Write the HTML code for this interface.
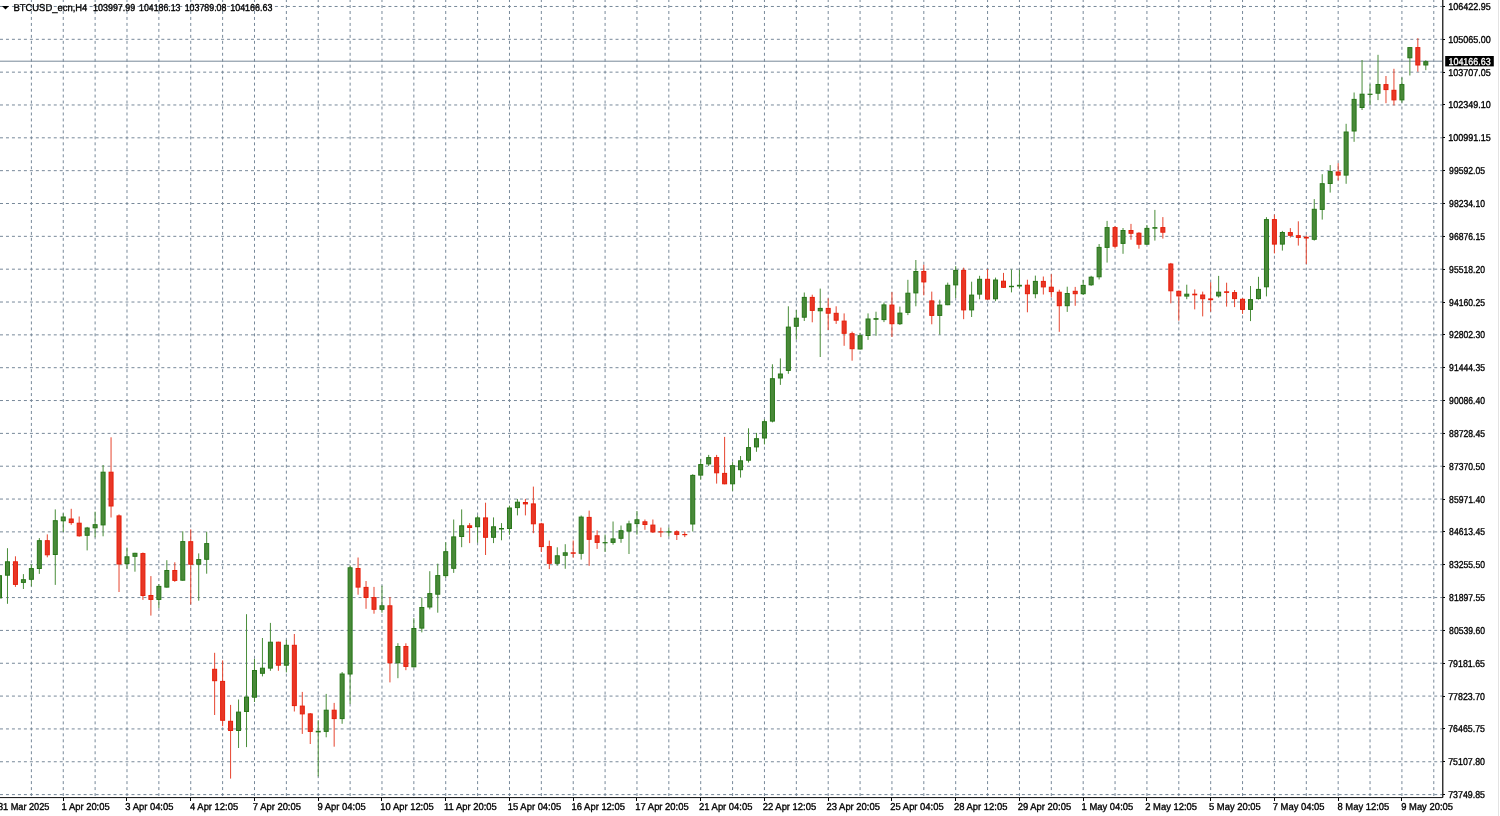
<!DOCTYPE html>
<html><head><meta charset="utf-8"><style>
html,body{margin:0;padding:0;background:#fff;overflow:hidden;}
svg{display:block;will-change:transform;}
.g{stroke:#778899;stroke-width:1;fill:none;}
.h{stroke-dasharray:2.988 2.988;}
.v{stroke-dasharray:2.985 2.985;stroke-dashoffset:0.95;}
text{font-family:"Liberation Sans",sans-serif;font-size:10.0px;text-rendering:geometricPrecision;}
.pl,.tl{fill:#000;stroke:#000;stroke-width:0.35px;}
.bl{fill:#fff;stroke:#fff;stroke-width:0.3px;}
</style></head><body>
<svg width="1500" height="816" viewBox="0 0 1500 816">
<path d="M0 6.47H1442.0M0 39.31H1442.0M0 72.15H1442.0M0 104.98H1442.0M0 137.82H1442.0M0 170.66H1442.0M0 203.50H1442.0M0 236.34H1442.0M0 269.18H1442.0M0 302.02H1442.0M0 334.86H1442.0M0 367.70H1442.0M0 400.54H1442.0M0 433.38H1442.0M0 466.21H1442.0M0 499.05H1442.0M0 531.89H1442.0M0 564.73H1442.0M0 597.57H1442.0M0 630.41H1442.0M0 663.25H1442.0M0 696.09H1442.0M0 728.93H1442.0M0 761.76H1442.0M0 794.60H1442.0" class="g h"/>
<path d="M31.38 0V797.0M63.25 0V797.0M95.12 0V797.0M126.99 0V797.0M158.87 0V797.0M190.74 0V797.0M222.61 0V797.0M254.49 0V797.0M286.36 0V797.0M318.23 0V797.0M350.11 0V797.0M381.98 0V797.0M413.85 0V797.0M445.72 0V797.0M477.60 0V797.0M509.47 0V797.0M541.34 0V797.0M573.22 0V797.0M605.09 0V797.0M636.96 0V797.0M668.84 0V797.0M700.71 0V797.0M732.58 0V797.0M764.45 0V797.0M796.33 0V797.0M828.20 0V797.0M860.07 0V797.0M891.95 0V797.0M923.82 0V797.0M955.69 0V797.0M987.57 0V797.0M1019.44 0V797.0M1051.31 0V797.0M1083.18 0V797.0M1115.06 0V797.0M1146.93 0V797.0M1178.80 0V797.0M1210.68 0V797.0M1242.55 0V797.0M1274.42 0V797.0M1306.30 0V797.0M1338.17 0V797.0M1370.04 0V797.0M1401.91 0V797.0M1433.79 0V797.0" class="g v"/>
<line x1="0" y1="61.2" x2="1442.5" y2="61.2" stroke="#778899" stroke-width="1"/>
<line x1="-0.5" y1="575.2" x2="-0.5" y2="600" stroke="#4a8d3a" stroke-width="1"/>
<rect x="-2.50" y="575.70" width="4" height="22.20" fill="#498939" stroke="#267617" stroke-width="1"/>
<line x1="7.47" y1="548.2" x2="7.47" y2="603.8" stroke="#4a8d3a" stroke-width="1"/>
<rect x="5.47" y="561.80" width="4" height="13.40" fill="#498939" stroke="#267617" stroke-width="1"/>
<line x1="15.44" y1="556.3" x2="15.44" y2="586.9" stroke="#e6452f" stroke-width="1"/>
<rect x="13.44" y="561.80" width="4" height="22.60" fill="#e83726" stroke="#e61e0a" stroke-width="1"/>
<line x1="23.41" y1="574.1" x2="23.41" y2="589.0" stroke="#4a8d3a" stroke-width="1"/>
<rect x="21.41" y="579.70" width="4" height="2.70" fill="#498939" stroke="#267617" stroke-width="1"/>
<line x1="31.38" y1="564.4" x2="31.38" y2="586.3" stroke="#4a8d3a" stroke-width="1"/>
<rect x="29.38" y="568.60" width="4" height="10.70" fill="#498939" stroke="#267617" stroke-width="1"/>
<line x1="39.34" y1="538.1" x2="39.34" y2="573.9" stroke="#4a8d3a" stroke-width="1"/>
<rect x="37.34" y="540.70" width="4" height="27.80" fill="#498939" stroke="#267617" stroke-width="1"/>
<line x1="47.31" y1="534.4" x2="47.31" y2="557.3" stroke="#e6452f" stroke-width="1"/>
<rect x="45.31" y="540.70" width="4" height="14.10" fill="#e83726" stroke="#e61e0a" stroke-width="1"/>
<line x1="55.28" y1="509.4" x2="55.28" y2="584.9" stroke="#4a8d3a" stroke-width="1"/>
<rect x="53.28" y="520.70" width="4" height="33.80" fill="#498939" stroke="#267617" stroke-width="1"/>
<line x1="63.25" y1="513.3" x2="63.25" y2="532.0" stroke="#4a8d3a" stroke-width="1"/>
<rect x="61.25" y="517.00" width="4" height="3.80" fill="#498939" stroke="#267617" stroke-width="1"/>
<line x1="71.22" y1="508.8" x2="71.22" y2="524.8" stroke="#e6452f" stroke-width="1"/>
<rect x="69.22" y="519.00" width="4" height="3.60" fill="#e83726" stroke="#e61e0a" stroke-width="1"/>
<line x1="79.18" y1="516.5" x2="79.18" y2="536.7" stroke="#e6452f" stroke-width="1"/>
<rect x="77.18" y="523.20" width="4" height="12.60" fill="#e83726" stroke="#e61e0a" stroke-width="1"/>
<line x1="87.15" y1="526.9" x2="87.15" y2="550.4" stroke="#4a8d3a" stroke-width="1"/>
<rect x="85.15" y="528.00" width="4" height="7.30" fill="#498939" stroke="#267617" stroke-width="1"/>
<line x1="95.12" y1="511.7" x2="95.12" y2="537.3" stroke="#4a8d3a" stroke-width="1"/>
<rect x="93.12" y="524.70" width="4" height="3.10" fill="#498939" stroke="#267617" stroke-width="1"/>
<line x1="103.09" y1="465.0" x2="103.09" y2="536.3" stroke="#4a8d3a" stroke-width="1"/>
<rect x="101.09" y="472.20" width="4" height="52.70" fill="#498939" stroke="#267617" stroke-width="1"/>
<line x1="111.06" y1="437.3" x2="111.06" y2="517.5" stroke="#e6452f" stroke-width="1"/>
<rect x="109.06" y="472.20" width="4" height="33.80" fill="#e83726" stroke="#e61e0a" stroke-width="1"/>
<line x1="119.03" y1="514.4" x2="119.03" y2="592.0" stroke="#e6452f" stroke-width="1"/>
<rect x="117.03" y="515.90" width="4" height="48.10" fill="#e83726" stroke="#e61e0a" stroke-width="1"/>
<line x1="126.99" y1="547.6" x2="126.99" y2="568.8" stroke="#4a8d3a" stroke-width="1"/>
<rect x="124.99" y="556.80" width="4" height="6.80" fill="#498939" stroke="#267617" stroke-width="1"/>
<line x1="134.96" y1="552.8" x2="134.96" y2="571.7" stroke="#4a8d3a" stroke-width="1"/>
<rect x="132.96" y="553.30" width="4" height="3.00" fill="#498939" stroke="#267617" stroke-width="1"/>
<line x1="142.93" y1="552.5" x2="142.93" y2="599.9" stroke="#e6452f" stroke-width="1"/>
<rect x="140.93" y="553.60" width="4" height="41.90" fill="#e83726" stroke="#e61e0a" stroke-width="1"/>
<line x1="150.9" y1="576.1" x2="150.9" y2="615.6" stroke="#e6452f" stroke-width="1"/>
<rect x="148.90" y="595.50" width="4" height="3.90" fill="#e83726" stroke="#e61e0a" stroke-width="1"/>
<line x1="158.87" y1="584.0" x2="158.87" y2="608.0" stroke="#4a8d3a" stroke-width="1"/>
<rect x="156.87" y="586.40" width="4" height="13.00" fill="#498939" stroke="#267617" stroke-width="1"/>
<line x1="166.83" y1="560.2" x2="166.83" y2="587.6" stroke="#4a8d3a" stroke-width="1"/>
<rect x="164.83" y="570.50" width="4" height="16.60" fill="#498939" stroke="#267617" stroke-width="1"/>
<line x1="174.8" y1="562.3" x2="174.8" y2="581.9" stroke="#e6452f" stroke-width="1"/>
<rect x="172.80" y="570.50" width="4" height="9.90" fill="#e83726" stroke="#e61e0a" stroke-width="1"/>
<line x1="182.77" y1="531.3" x2="182.77" y2="580.7" stroke="#4a8d3a" stroke-width="1"/>
<rect x="180.77" y="541.60" width="4" height="38.60" fill="#498939" stroke="#267617" stroke-width="1"/>
<line x1="190.74" y1="529.4" x2="190.74" y2="604.4" stroke="#e6452f" stroke-width="1"/>
<rect x="188.74" y="541.70" width="4" height="22.50" fill="#e83726" stroke="#e61e0a" stroke-width="1"/>
<line x1="198.71" y1="553.4" x2="198.71" y2="600.7" stroke="#4a8d3a" stroke-width="1"/>
<rect x="196.71" y="559.60" width="4" height="4.60" fill="#498939" stroke="#267617" stroke-width="1"/>
<line x1="206.68" y1="531.7" x2="206.68" y2="573.7" stroke="#4a8d3a" stroke-width="1"/>
<rect x="204.68" y="543.60" width="4" height="15.70" fill="#498939" stroke="#267617" stroke-width="1"/>
<line x1="214.64" y1="652.8" x2="214.64" y2="715.0" stroke="#e6452f" stroke-width="1"/>
<rect x="212.64" y="669.30" width="4" height="11.40" fill="#e83726" stroke="#e61e0a" stroke-width="1"/>
<line x1="222.61" y1="660.4" x2="222.61" y2="726.2" stroke="#e6452f" stroke-width="1"/>
<rect x="220.61" y="681.40" width="4" height="38.90" fill="#e83726" stroke="#e61e0a" stroke-width="1"/>
<line x1="230.58" y1="704.9" x2="230.58" y2="778.6" stroke="#e6452f" stroke-width="1"/>
<rect x="228.58" y="721.30" width="4" height="9.20" fill="#e83726" stroke="#e61e0a" stroke-width="1"/>
<line x1="238.55" y1="699.5" x2="238.55" y2="748.0" stroke="#4a8d3a" stroke-width="1"/>
<rect x="236.55" y="712.10" width="4" height="18.40" fill="#498939" stroke="#267617" stroke-width="1"/>
<line x1="246.52" y1="614.2" x2="246.52" y2="747.1" stroke="#4a8d3a" stroke-width="1"/>
<rect x="244.52" y="697.10" width="4" height="14.40" fill="#498939" stroke="#267617" stroke-width="1"/>
<line x1="254.48" y1="658.9" x2="254.48" y2="702.0" stroke="#4a8d3a" stroke-width="1"/>
<rect x="252.48" y="670.50" width="4" height="26.70" fill="#498939" stroke="#267617" stroke-width="1"/>
<line x1="262.45" y1="638.0" x2="262.45" y2="676.4" stroke="#4a8d3a" stroke-width="1"/>
<rect x="260.45" y="668.20" width="4" height="5.10" fill="#498939" stroke="#267617" stroke-width="1"/>
<line x1="270.42" y1="622.9" x2="270.42" y2="670.8" stroke="#4a8d3a" stroke-width="1"/>
<rect x="268.42" y="642.20" width="4" height="25.90" fill="#498939" stroke="#267617" stroke-width="1"/>
<line x1="278.39" y1="641.7" x2="278.39" y2="670.8" stroke="#e6452f" stroke-width="1"/>
<rect x="276.39" y="642.20" width="4" height="23.00" fill="#e83726" stroke="#e61e0a" stroke-width="1"/>
<line x1="286.36" y1="639.8" x2="286.36" y2="672.4" stroke="#4a8d3a" stroke-width="1"/>
<rect x="284.36" y="645.30" width="4" height="19.90" fill="#498939" stroke="#267617" stroke-width="1"/>
<line x1="294.33" y1="634.0" x2="294.33" y2="711.5" stroke="#e6452f" stroke-width="1"/>
<rect x="292.33" y="645.30" width="4" height="60.30" fill="#e83726" stroke="#e61e0a" stroke-width="1"/>
<line x1="302.29" y1="691.9" x2="302.29" y2="733.9" stroke="#e6452f" stroke-width="1"/>
<rect x="300.29" y="706.10" width="4" height="7.80" fill="#e83726" stroke="#e61e0a" stroke-width="1"/>
<line x1="310.26" y1="713.0" x2="310.26" y2="744.0" stroke="#e6452f" stroke-width="1"/>
<rect x="308.26" y="713.90" width="4" height="17.50" fill="#e83726" stroke="#e61e0a" stroke-width="1"/>
<line x1="318.23" y1="720.2" x2="318.23" y2="776.4" stroke="#4a8d3a" stroke-width="1"/>
<rect x="315.73" y="730.80" width="5" height="1.60" fill="#267617"/>
<line x1="326.2" y1="693.9" x2="326.2" y2="737.3" stroke="#4a8d3a" stroke-width="1"/>
<rect x="324.20" y="710.20" width="4" height="21.20" fill="#498939" stroke="#267617" stroke-width="1"/>
<line x1="334.17" y1="702.9" x2="334.17" y2="746.7" stroke="#e6452f" stroke-width="1"/>
<rect x="332.17" y="710.20" width="4" height="8.40" fill="#e83726" stroke="#e61e0a" stroke-width="1"/>
<line x1="342.13" y1="672.0" x2="342.13" y2="723.8" stroke="#4a8d3a" stroke-width="1"/>
<rect x="340.13" y="674.00" width="4" height="44.60" fill="#498939" stroke="#267617" stroke-width="1"/>
<line x1="350.1" y1="565.3" x2="350.1" y2="703.9" stroke="#4a8d3a" stroke-width="1"/>
<rect x="348.10" y="567.80" width="4" height="106.20" fill="#498939" stroke="#267617" stroke-width="1"/>
<line x1="358.07" y1="557.5" x2="358.07" y2="594.7" stroke="#e6452f" stroke-width="1"/>
<rect x="356.07" y="568.50" width="4" height="18.60" fill="#e83726" stroke="#e61e0a" stroke-width="1"/>
<line x1="366.04" y1="581.0" x2="366.04" y2="608.8" stroke="#e6452f" stroke-width="1"/>
<rect x="364.04" y="587.40" width="4" height="10.10" fill="#e83726" stroke="#e61e0a" stroke-width="1"/>
<line x1="374.01" y1="586.9" x2="374.01" y2="613.7" stroke="#e6452f" stroke-width="1"/>
<rect x="372.01" y="597.60" width="4" height="11.70" fill="#e83726" stroke="#e61e0a" stroke-width="1"/>
<line x1="381.98" y1="585.7" x2="381.98" y2="612.7" stroke="#4a8d3a" stroke-width="1"/>
<rect x="379.98" y="605.80" width="4" height="3.50" fill="#498939" stroke="#267617" stroke-width="1"/>
<line x1="389.94" y1="597.0" x2="389.94" y2="682.4" stroke="#e6452f" stroke-width="1"/>
<rect x="387.94" y="605.80" width="4" height="57.00" fill="#e83726" stroke="#e61e0a" stroke-width="1"/>
<line x1="397.91" y1="643.2" x2="397.91" y2="678.2" stroke="#4a8d3a" stroke-width="1"/>
<rect x="395.91" y="646.50" width="4" height="16.30" fill="#498939" stroke="#267617" stroke-width="1"/>
<line x1="405.88" y1="643.3" x2="405.88" y2="670.2" stroke="#e6452f" stroke-width="1"/>
<rect x="403.88" y="646.50" width="4" height="19.90" fill="#e83726" stroke="#e61e0a" stroke-width="1"/>
<line x1="413.85" y1="618.2" x2="413.85" y2="667.3" stroke="#4a8d3a" stroke-width="1"/>
<rect x="411.85" y="628.50" width="4" height="38.30" fill="#498939" stroke="#267617" stroke-width="1"/>
<line x1="421.82" y1="597.6" x2="421.82" y2="632.4" stroke="#4a8d3a" stroke-width="1"/>
<rect x="419.82" y="607.50" width="4" height="20.60" fill="#498939" stroke="#267617" stroke-width="1"/>
<line x1="429.79" y1="571.2" x2="429.79" y2="609.4" stroke="#4a8d3a" stroke-width="1"/>
<rect x="427.79" y="593.60" width="4" height="13.40" fill="#498939" stroke="#267617" stroke-width="1"/>
<line x1="437.75" y1="563.7" x2="437.75" y2="612.7" stroke="#4a8d3a" stroke-width="1"/>
<rect x="435.75" y="575.60" width="4" height="18.60" fill="#498939" stroke="#267617" stroke-width="1"/>
<line x1="445.72" y1="542.2" x2="445.72" y2="578.0" stroke="#4a8d3a" stroke-width="1"/>
<rect x="443.72" y="551.70" width="4" height="23.90" fill="#498939" stroke="#267617" stroke-width="1"/>
<line x1="453.69" y1="519.5" x2="453.69" y2="572.9" stroke="#4a8d3a" stroke-width="1"/>
<rect x="451.69" y="536.90" width="4" height="31.40" fill="#498939" stroke="#267617" stroke-width="1"/>
<line x1="461.66" y1="509.4" x2="461.66" y2="547.2" stroke="#4a8d3a" stroke-width="1"/>
<rect x="459.66" y="525.80" width="4" height="10.70" fill="#498939" stroke="#267617" stroke-width="1"/>
<line x1="469.63" y1="523.1" x2="469.63" y2="543.1" stroke="#e6452f" stroke-width="1"/>
<rect x="467.63" y="525.80" width="4" height="1.70" fill="#e83726" stroke="#e61e0a" stroke-width="1"/>
<line x1="477.59" y1="515.5" x2="477.59" y2="542.7" stroke="#4a8d3a" stroke-width="1"/>
<rect x="475.59" y="517.90" width="4" height="8.80" fill="#498939" stroke="#267617" stroke-width="1"/>
<line x1="485.56" y1="502.7" x2="485.56" y2="555.0" stroke="#e6452f" stroke-width="1"/>
<rect x="483.56" y="517.90" width="4" height="19.40" fill="#e83726" stroke="#e61e0a" stroke-width="1"/>
<line x1="493.53" y1="517.4" x2="493.53" y2="543.1" stroke="#4a8d3a" stroke-width="1"/>
<rect x="491.53" y="526.80" width="4" height="10.50" fill="#498939" stroke="#267617" stroke-width="1"/>
<line x1="501.5" y1="523.1" x2="501.5" y2="540.3" stroke="#4a8d3a" stroke-width="1"/>
<rect x="499.00" y="528.00" width="5" height="1.50" fill="#267617"/>
<line x1="509.47" y1="505.6" x2="509.47" y2="534.8" stroke="#4a8d3a" stroke-width="1"/>
<rect x="507.47" y="508.00" width="4" height="20.50" fill="#498939" stroke="#267617" stroke-width="1"/>
<line x1="517.44" y1="498.9" x2="517.44" y2="515.4" stroke="#4a8d3a" stroke-width="1"/>
<rect x="515.44" y="502.20" width="4" height="5.40" fill="#498939" stroke="#267617" stroke-width="1"/>
<line x1="525.4" y1="498.9" x2="525.4" y2="515.4" stroke="#e6452f" stroke-width="1"/>
<rect x="523.40" y="502.50" width="4" height="1.40" fill="#e83726" stroke="#e61e0a" stroke-width="1"/>
<line x1="533.37" y1="486.6" x2="533.37" y2="533.2" stroke="#e6452f" stroke-width="1"/>
<rect x="531.37" y="503.90" width="4" height="19.90" fill="#e83726" stroke="#e61e0a" stroke-width="1"/>
<line x1="541.34" y1="522.8" x2="541.34" y2="552.0" stroke="#e6452f" stroke-width="1"/>
<rect x="539.34" y="523.90" width="4" height="22.70" fill="#e83726" stroke="#e61e0a" stroke-width="1"/>
<line x1="549.31" y1="540.6" x2="549.31" y2="569.1" stroke="#e6452f" stroke-width="1"/>
<rect x="547.31" y="546.60" width="4" height="16.70" fill="#e83726" stroke="#e61e0a" stroke-width="1"/>
<line x1="557.28" y1="547.3" x2="557.28" y2="565.7" stroke="#4a8d3a" stroke-width="1"/>
<rect x="555.28" y="555.80" width="4" height="7.50" fill="#498939" stroke="#267617" stroke-width="1"/>
<line x1="565.24" y1="544.2" x2="565.24" y2="568.8" stroke="#4a8d3a" stroke-width="1"/>
<rect x="563.24" y="552.80" width="4" height="2.50" fill="#498939" stroke="#267617" stroke-width="1"/>
<line x1="573.21" y1="540.5" x2="573.21" y2="557.7" stroke="#e6452f" stroke-width="1"/>
<rect x="570.71" y="552.30" width="5" height="1.50" fill="#e61e0a"/>
<line x1="581.18" y1="515.5" x2="581.18" y2="559.6" stroke="#4a8d3a" stroke-width="1"/>
<rect x="579.18" y="517.10" width="4" height="36.20" fill="#498939" stroke="#267617" stroke-width="1"/>
<line x1="589.15" y1="510.6" x2="589.15" y2="565.8" stroke="#e6452f" stroke-width="1"/>
<rect x="587.15" y="517.40" width="4" height="21.90" fill="#e83726" stroke="#e61e0a" stroke-width="1"/>
<line x1="597.12" y1="530.4" x2="597.12" y2="548.9" stroke="#e6452f" stroke-width="1"/>
<rect x="595.12" y="535.80" width="4" height="6.60" fill="#e83726" stroke="#e61e0a" stroke-width="1"/>
<line x1="605.09" y1="534.6" x2="605.09" y2="552.0" stroke="#4a8d3a" stroke-width="1"/>
<rect x="602.59" y="542.10" width="5" height="1.20" fill="#267617"/>
<line x1="613.05" y1="521.5" x2="613.05" y2="544.7" stroke="#4a8d3a" stroke-width="1"/>
<rect x="611.05" y="538.90" width="4" height="3.50" fill="#498939" stroke="#267617" stroke-width="1"/>
<line x1="621.02" y1="525.5" x2="621.02" y2="542.8" stroke="#4a8d3a" stroke-width="1"/>
<rect x="619.02" y="530.70" width="4" height="7.60" fill="#498939" stroke="#267617" stroke-width="1"/>
<line x1="628.99" y1="520.7" x2="628.99" y2="554.0" stroke="#4a8d3a" stroke-width="1"/>
<rect x="626.99" y="523.90" width="4" height="7.20" fill="#498939" stroke="#267617" stroke-width="1"/>
<line x1="636.96" y1="511.0" x2="636.96" y2="534.6" stroke="#4a8d3a" stroke-width="1"/>
<rect x="634.96" y="519.80" width="4" height="3.80" fill="#498939" stroke="#267617" stroke-width="1"/>
<line x1="644.93" y1="519.5" x2="644.93" y2="529.8" stroke="#e6452f" stroke-width="1"/>
<rect x="642.93" y="521.80" width="4" height="2.70" fill="#e83726" stroke="#e61e0a" stroke-width="1"/>
<line x1="652.89" y1="519.5" x2="652.89" y2="532.9" stroke="#e6452f" stroke-width="1"/>
<rect x="650.89" y="525.10" width="4" height="6.80" fill="#e83726" stroke="#e61e0a" stroke-width="1"/>
<line x1="660.86" y1="527.6" x2="660.86" y2="537.1" stroke="#e6452f" stroke-width="1"/>
<rect x="658.36" y="531.30" width="5" height="1.20" fill="#e61e0a"/>
<line x1="668.83" y1="527.4" x2="668.83" y2="536.4" stroke="#4a8d3a" stroke-width="1"/>
<rect x="666.33" y="531.30" width="5" height="1.20" fill="#267617"/>
<line x1="676.8" y1="530.3" x2="676.8" y2="540.0" stroke="#e6452f" stroke-width="1"/>
<rect x="674.80" y="531.80" width="4" height="2.60" fill="#e83726" stroke="#e61e0a" stroke-width="1"/>
<line x1="684.77" y1="531.5" x2="684.77" y2="537.1" stroke="#e6452f" stroke-width="1"/>
<rect x="682.27" y="534.00" width="5" height="1.20" fill="#e61e0a"/>
<line x1="692.74" y1="474.2" x2="692.74" y2="531.5" stroke="#4a8d3a" stroke-width="1"/>
<rect x="690.74" y="475.40" width="4" height="48.60" fill="#498939" stroke="#267617" stroke-width="1"/>
<line x1="700.7" y1="459.0" x2="700.7" y2="479.6" stroke="#4a8d3a" stroke-width="1"/>
<rect x="698.70" y="464.60" width="4" height="10.50" fill="#498939" stroke="#267617" stroke-width="1"/>
<line x1="708.67" y1="454.9" x2="708.67" y2="466.1" stroke="#4a8d3a" stroke-width="1"/>
<rect x="706.67" y="457.60" width="4" height="6.30" fill="#498939" stroke="#267617" stroke-width="1"/>
<line x1="716.64" y1="454.9" x2="716.64" y2="483.6" stroke="#e6452f" stroke-width="1"/>
<rect x="714.64" y="457.60" width="4" height="15.20" fill="#e83726" stroke="#e61e0a" stroke-width="1"/>
<line x1="724.61" y1="436.9" x2="724.61" y2="484.3" stroke="#e6452f" stroke-width="1"/>
<rect x="722.61" y="473.40" width="4" height="10.40" fill="#e83726" stroke="#e61e0a" stroke-width="1"/>
<line x1="732.58" y1="462.1" x2="732.58" y2="490.8" stroke="#4a8d3a" stroke-width="1"/>
<rect x="730.58" y="465.70" width="4" height="18.10" fill="#498939" stroke="#267617" stroke-width="1"/>
<line x1="740.54" y1="456.0" x2="740.54" y2="477.6" stroke="#4a8d3a" stroke-width="1"/>
<rect x="738.54" y="460.80" width="4" height="8.90" fill="#498939" stroke="#267617" stroke-width="1"/>
<line x1="748.51" y1="428.3" x2="748.51" y2="462.5" stroke="#4a8d3a" stroke-width="1"/>
<rect x="746.51" y="447.60" width="4" height="12.60" fill="#498939" stroke="#267617" stroke-width="1"/>
<line x1="756.48" y1="432.9" x2="756.48" y2="451.8" stroke="#4a8d3a" stroke-width="1"/>
<rect x="754.48" y="438.70" width="4" height="8.20" fill="#498939" stroke="#267617" stroke-width="1"/>
<line x1="764.45" y1="419.4" x2="764.45" y2="444.4" stroke="#4a8d3a" stroke-width="1"/>
<rect x="762.45" y="421.70" width="4" height="16.30" fill="#498939" stroke="#267617" stroke-width="1"/>
<line x1="772.42" y1="364.3" x2="772.42" y2="422.4" stroke="#4a8d3a" stroke-width="1"/>
<rect x="770.42" y="378.70" width="4" height="42.40" fill="#498939" stroke="#267617" stroke-width="1"/>
<line x1="780.39" y1="358.4" x2="780.39" y2="384.9" stroke="#4a8d3a" stroke-width="1"/>
<rect x="778.39" y="374.00" width="4" height="4.00" fill="#498939" stroke="#267617" stroke-width="1"/>
<line x1="788.35" y1="306.3" x2="788.35" y2="373.8" stroke="#4a8d3a" stroke-width="1"/>
<rect x="786.35" y="327.10" width="4" height="43.30" fill="#498939" stroke="#267617" stroke-width="1"/>
<line x1="796.32" y1="310.0" x2="796.32" y2="339.4" stroke="#4a8d3a" stroke-width="1"/>
<rect x="794.32" y="318.20" width="4" height="8.10" fill="#498939" stroke="#267617" stroke-width="1"/>
<line x1="804.29" y1="292.5" x2="804.29" y2="321.0" stroke="#4a8d3a" stroke-width="1"/>
<rect x="802.29" y="297.40" width="4" height="19.80" fill="#498939" stroke="#267617" stroke-width="1"/>
<line x1="812.26" y1="294.7" x2="812.26" y2="322.3" stroke="#e6452f" stroke-width="1"/>
<rect x="810.26" y="297.40" width="4" height="13.00" fill="#e83726" stroke="#e61e0a" stroke-width="1"/>
<line x1="820.23" y1="288.6" x2="820.23" y2="357.0" stroke="#4a8d3a" stroke-width="1"/>
<rect x="818.23" y="308.40" width="4" height="2.40" fill="#498939" stroke="#267617" stroke-width="1"/>
<line x1="828.2" y1="298.4" x2="828.2" y2="330.0" stroke="#e6452f" stroke-width="1"/>
<rect x="826.20" y="308.40" width="4" height="4.80" fill="#e83726" stroke="#e61e0a" stroke-width="1"/>
<line x1="836.16" y1="306.3" x2="836.16" y2="323.9" stroke="#e6452f" stroke-width="1"/>
<rect x="834.16" y="313.30" width="4" height="6.90" fill="#e83726" stroke="#e61e0a" stroke-width="1"/>
<line x1="844.13" y1="313.4" x2="844.13" y2="345.8" stroke="#e6452f" stroke-width="1"/>
<rect x="842.13" y="321.10" width="4" height="12.20" fill="#e83726" stroke="#e61e0a" stroke-width="1"/>
<line x1="852.1" y1="331.6" x2="852.1" y2="360.7" stroke="#e6452f" stroke-width="1"/>
<rect x="850.10" y="333.70" width="4" height="15.00" fill="#e83726" stroke="#e61e0a" stroke-width="1"/>
<line x1="860.07" y1="332.8" x2="860.07" y2="349.5" stroke="#4a8d3a" stroke-width="1"/>
<rect x="858.07" y="335.70" width="4" height="13.30" fill="#498939" stroke="#267617" stroke-width="1"/>
<line x1="868.04" y1="313.4" x2="868.04" y2="339.9" stroke="#4a8d3a" stroke-width="1"/>
<rect x="866.04" y="319.00" width="4" height="16.50" fill="#498939" stroke="#267617" stroke-width="1"/>
<line x1="876.0" y1="311.7" x2="876.0" y2="335.8" stroke="#4a8d3a" stroke-width="1"/>
<rect x="873.50" y="318.10" width="5" height="1.70" fill="#267617"/>
<line x1="883.97" y1="302.5" x2="883.97" y2="322.1" stroke="#4a8d3a" stroke-width="1"/>
<rect x="881.97" y="304.90" width="4" height="14.70" fill="#498939" stroke="#267617" stroke-width="1"/>
<line x1="891.94" y1="292.1" x2="891.94" y2="337.0" stroke="#e6452f" stroke-width="1"/>
<rect x="889.94" y="305.10" width="4" height="18.60" fill="#e83726" stroke="#e61e0a" stroke-width="1"/>
<line x1="899.91" y1="306.6" x2="899.91" y2="325.0" stroke="#4a8d3a" stroke-width="1"/>
<rect x="897.91" y="313.10" width="4" height="10.60" fill="#498939" stroke="#267617" stroke-width="1"/>
<line x1="907.88" y1="279.8" x2="907.88" y2="315.1" stroke="#4a8d3a" stroke-width="1"/>
<rect x="905.88" y="293.20" width="4" height="19.20" fill="#498939" stroke="#267617" stroke-width="1"/>
<line x1="915.85" y1="260.0" x2="915.85" y2="306.3" stroke="#4a8d3a" stroke-width="1"/>
<rect x="913.85" y="271.50" width="4" height="21.40" fill="#498939" stroke="#267617" stroke-width="1"/>
<line x1="923.81" y1="264.7" x2="923.81" y2="295.3" stroke="#e6452f" stroke-width="1"/>
<rect x="921.81" y="271.50" width="4" height="10.40" fill="#e83726" stroke="#e61e0a" stroke-width="1"/>
<line x1="931.78" y1="291.6" x2="931.78" y2="324.3" stroke="#e6452f" stroke-width="1"/>
<rect x="929.78" y="300.90" width="4" height="14.50" fill="#e83726" stroke="#e61e0a" stroke-width="1"/>
<line x1="939.75" y1="299.7" x2="939.75" y2="334.6" stroke="#4a8d3a" stroke-width="1"/>
<rect x="937.75" y="305.10" width="4" height="10.30" fill="#498939" stroke="#267617" stroke-width="1"/>
<line x1="947.72" y1="282.6" x2="947.72" y2="305.2" stroke="#4a8d3a" stroke-width="1"/>
<rect x="945.72" y="285.30" width="4" height="19.40" fill="#498939" stroke="#267617" stroke-width="1"/>
<line x1="955.69" y1="266.2" x2="955.69" y2="298.0" stroke="#4a8d3a" stroke-width="1"/>
<rect x="953.69" y="270.40" width="4" height="14.50" fill="#498939" stroke="#267617" stroke-width="1"/>
<line x1="963.65" y1="267.7" x2="963.65" y2="319.2" stroke="#e6452f" stroke-width="1"/>
<rect x="961.65" y="270.40" width="4" height="39.50" fill="#e83726" stroke="#e61e0a" stroke-width="1"/>
<line x1="971.62" y1="281.7" x2="971.62" y2="317.0" stroke="#4a8d3a" stroke-width="1"/>
<rect x="969.62" y="295.10" width="4" height="14.80" fill="#498939" stroke="#267617" stroke-width="1"/>
<line x1="979.59" y1="275.8" x2="979.59" y2="299.3" stroke="#4a8d3a" stroke-width="1"/>
<rect x="977.59" y="279.30" width="4" height="14.80" fill="#498939" stroke="#267617" stroke-width="1"/>
<line x1="987.56" y1="269.2" x2="987.56" y2="299.7" stroke="#e6452f" stroke-width="1"/>
<rect x="985.56" y="279.30" width="4" height="19.80" fill="#e83726" stroke="#e61e0a" stroke-width="1"/>
<line x1="995.53" y1="277.6" x2="995.53" y2="301.2" stroke="#4a8d3a" stroke-width="1"/>
<rect x="993.53" y="280.00" width="4" height="18.80" fill="#498939" stroke="#267617" stroke-width="1"/>
<line x1="1003.5" y1="272.9" x2="1003.5" y2="287.8" stroke="#e6452f" stroke-width="1"/>
<rect x="1001.50" y="281.20" width="4" height="6.10" fill="#e83726" stroke="#e61e0a" stroke-width="1"/>
<line x1="1011.46" y1="269.5" x2="1011.46" y2="292.4" stroke="#4a8d3a" stroke-width="1"/>
<rect x="1008.96" y="285.80" width="5" height="1.40" fill="#267617"/>
<line x1="1019.43" y1="269.7" x2="1019.43" y2="288.3" stroke="#4a8d3a" stroke-width="1"/>
<rect x="1016.93" y="284.80" width="5" height="1.70" fill="#267617"/>
<line x1="1027.4" y1="279.7" x2="1027.4" y2="312.3" stroke="#e6452f" stroke-width="1"/>
<rect x="1025.40" y="285.20" width="4" height="8.50" fill="#e83726" stroke="#e61e0a" stroke-width="1"/>
<line x1="1035.37" y1="275.6" x2="1035.37" y2="298.3" stroke="#4a8d3a" stroke-width="1"/>
<rect x="1033.37" y="281.40" width="4" height="12.30" fill="#498939" stroke="#267617" stroke-width="1"/>
<line x1="1043.34" y1="276.5" x2="1043.34" y2="294.5" stroke="#e6452f" stroke-width="1"/>
<rect x="1041.34" y="281.40" width="4" height="5.50" fill="#e83726" stroke="#e61e0a" stroke-width="1"/>
<line x1="1051.3" y1="274.2" x2="1051.3" y2="297.4" stroke="#e6452f" stroke-width="1"/>
<rect x="1049.30" y="287.20" width="4" height="4.40" fill="#e83726" stroke="#e61e0a" stroke-width="1"/>
<line x1="1059.27" y1="289.7" x2="1059.27" y2="331.8" stroke="#e6452f" stroke-width="1"/>
<rect x="1057.27" y="292.20" width="4" height="13.50" fill="#e83726" stroke="#e61e0a" stroke-width="1"/>
<line x1="1067.24" y1="286.7" x2="1067.24" y2="311.9" stroke="#4a8d3a" stroke-width="1"/>
<rect x="1065.24" y="293.50" width="4" height="12.20" fill="#498939" stroke="#267617" stroke-width="1"/>
<line x1="1075.21" y1="286.9" x2="1075.21" y2="305.8" stroke="#e6452f" stroke-width="1"/>
<rect x="1073.21" y="291.30" width="4" height="2.40" fill="#e83726" stroke="#e61e0a" stroke-width="1"/>
<line x1="1083.18" y1="280.0" x2="1083.18" y2="295.0" stroke="#4a8d3a" stroke-width="1"/>
<rect x="1081.18" y="285.40" width="4" height="8.30" fill="#498939" stroke="#267617" stroke-width="1"/>
<line x1="1091.15" y1="275.8" x2="1091.15" y2="285.9" stroke="#4a8d3a" stroke-width="1"/>
<rect x="1089.15" y="277.20" width="4" height="7.60" fill="#498939" stroke="#267617" stroke-width="1"/>
<line x1="1099.11" y1="244.0" x2="1099.11" y2="279.5" stroke="#4a8d3a" stroke-width="1"/>
<rect x="1097.11" y="247.40" width="4" height="29.40" fill="#498939" stroke="#267617" stroke-width="1"/>
<line x1="1107.08" y1="220.9" x2="1107.08" y2="262.6" stroke="#4a8d3a" stroke-width="1"/>
<rect x="1105.08" y="227.60" width="4" height="19.80" fill="#498939" stroke="#267617" stroke-width="1"/>
<line x1="1115.05" y1="226.1" x2="1115.05" y2="248.5" stroke="#e6452f" stroke-width="1"/>
<rect x="1113.05" y="227.60" width="4" height="18.60" fill="#e83726" stroke="#e61e0a" stroke-width="1"/>
<line x1="1123.02" y1="228.0" x2="1123.02" y2="253.8" stroke="#4a8d3a" stroke-width="1"/>
<rect x="1121.02" y="230.50" width="4" height="12.90" fill="#498939" stroke="#267617" stroke-width="1"/>
<line x1="1130.99" y1="223.9" x2="1130.99" y2="239.7" stroke="#e6452f" stroke-width="1"/>
<rect x="1128.99" y="230.50" width="4" height="2.80" fill="#e83726" stroke="#e61e0a" stroke-width="1"/>
<line x1="1138.95" y1="232.2" x2="1138.95" y2="248.7" stroke="#e6452f" stroke-width="1"/>
<rect x="1136.95" y="233.20" width="4" height="11.00" fill="#e83726" stroke="#e61e0a" stroke-width="1"/>
<line x1="1146.92" y1="225.0" x2="1146.92" y2="244.7" stroke="#4a8d3a" stroke-width="1"/>
<rect x="1144.92" y="228.40" width="4" height="15.80" fill="#498939" stroke="#267617" stroke-width="1"/>
<line x1="1154.89" y1="209.9" x2="1154.89" y2="240.6" stroke="#4a8d3a" stroke-width="1"/>
<rect x="1152.39" y="227.10" width="5" height="1.60" fill="#267617"/>
<line x1="1162.86" y1="217.1" x2="1162.86" y2="238.6" stroke="#e6452f" stroke-width="1"/>
<rect x="1160.86" y="227.60" width="4" height="4.60" fill="#e83726" stroke="#e61e0a" stroke-width="1"/>
<line x1="1170.83" y1="262.9" x2="1170.83" y2="303.3" stroke="#e6452f" stroke-width="1"/>
<rect x="1168.83" y="264.00" width="4" height="26.80" fill="#e83726" stroke="#e61e0a" stroke-width="1"/>
<line x1="1178.8" y1="290.5" x2="1178.8" y2="320.7" stroke="#e6452f" stroke-width="1"/>
<rect x="1176.80" y="291.30" width="4" height="4.60" fill="#e83726" stroke="#e61e0a" stroke-width="1"/>
<line x1="1186.76" y1="284.7" x2="1186.76" y2="299.2" stroke="#4a8d3a" stroke-width="1"/>
<rect x="1184.76" y="294.20" width="4" height="1.90" fill="#498939" stroke="#267617" stroke-width="1"/>
<line x1="1194.73" y1="289.4" x2="1194.73" y2="309.4" stroke="#e6452f" stroke-width="1"/>
<rect x="1192.23" y="293.70" width="5" height="1.60" fill="#e61e0a"/>
<line x1="1202.7" y1="291.6" x2="1202.7" y2="316.4" stroke="#e6452f" stroke-width="1"/>
<rect x="1200.70" y="295.00" width="4" height="3.70" fill="#e83726" stroke="#e61e0a" stroke-width="1"/>
<line x1="1210.67" y1="282.3" x2="1210.67" y2="311.7" stroke="#e6452f" stroke-width="1"/>
<rect x="1208.17" y="298.40" width="5" height="1.80" fill="#e61e0a"/>
<line x1="1218.64" y1="275.9" x2="1218.64" y2="297.6" stroke="#4a8d3a" stroke-width="1"/>
<rect x="1216.64" y="292.20" width="4" height="3.70" fill="#498939" stroke="#267617" stroke-width="1"/>
<line x1="1226.61" y1="282.7" x2="1226.61" y2="306.6" stroke="#e6452f" stroke-width="1"/>
<rect x="1224.11" y="291.30" width="5" height="1.60" fill="#e61e0a"/>
<line x1="1234.57" y1="290.0" x2="1234.57" y2="307.1" stroke="#e6452f" stroke-width="1"/>
<rect x="1232.57" y="292.60" width="4" height="6.00" fill="#e83726" stroke="#e61e0a" stroke-width="1"/>
<line x1="1242.54" y1="298.0" x2="1242.54" y2="313.9" stroke="#e6452f" stroke-width="1"/>
<rect x="1240.54" y="299.30" width="4" height="10.10" fill="#e83726" stroke="#e61e0a" stroke-width="1"/>
<line x1="1250.51" y1="286.0" x2="1250.51" y2="321.1" stroke="#4a8d3a" stroke-width="1"/>
<rect x="1248.51" y="299.60" width="4" height="9.80" fill="#498939" stroke="#267617" stroke-width="1"/>
<line x1="1258.48" y1="276.8" x2="1258.48" y2="299.6" stroke="#4a8d3a" stroke-width="1"/>
<rect x="1256.48" y="289.40" width="4" height="9.20" fill="#498939" stroke="#267617" stroke-width="1"/>
<line x1="1266.45" y1="217.2" x2="1266.45" y2="296.4" stroke="#4a8d3a" stroke-width="1"/>
<rect x="1264.45" y="219.60" width="4" height="67.20" fill="#498939" stroke="#267617" stroke-width="1"/>
<line x1="1274.41" y1="214.7" x2="1274.41" y2="253.4" stroke="#e6452f" stroke-width="1"/>
<rect x="1272.41" y="219.60" width="4" height="24.50" fill="#e83726" stroke="#e61e0a" stroke-width="1"/>
<line x1="1282.38" y1="230.9" x2="1282.38" y2="250.6" stroke="#4a8d3a" stroke-width="1"/>
<rect x="1280.38" y="232.50" width="4" height="11.60" fill="#498939" stroke="#267617" stroke-width="1"/>
<line x1="1290.35" y1="228.1" x2="1290.35" y2="237.5" stroke="#e6452f" stroke-width="1"/>
<rect x="1288.35" y="232.60" width="4" height="2.70" fill="#e83726" stroke="#e61e0a" stroke-width="1"/>
<line x1="1298.32" y1="221.3" x2="1298.32" y2="245.6" stroke="#e6452f" stroke-width="1"/>
<rect x="1296.32" y="235.70" width="4" height="1.70" fill="#e83726" stroke="#e61e0a" stroke-width="1"/>
<line x1="1306.29" y1="235.5" x2="1306.29" y2="264.1" stroke="#e6452f" stroke-width="1"/>
<rect x="1303.79" y="236.80" width="5" height="1.70" fill="#e61e0a"/>
<line x1="1314.26" y1="199.1" x2="1314.26" y2="240.6" stroke="#4a8d3a" stroke-width="1"/>
<rect x="1312.26" y="209.30" width="4" height="30.00" fill="#498939" stroke="#267617" stroke-width="1"/>
<line x1="1322.22" y1="174.2" x2="1322.22" y2="219.6" stroke="#4a8d3a" stroke-width="1"/>
<rect x="1320.22" y="183.70" width="4" height="25.70" fill="#498939" stroke="#267617" stroke-width="1"/>
<line x1="1330.19" y1="165.1" x2="1330.19" y2="192.6" stroke="#4a8d3a" stroke-width="1"/>
<rect x="1328.19" y="171.60" width="4" height="11.90" fill="#498939" stroke="#267617" stroke-width="1"/>
<line x1="1338.16" y1="163.2" x2="1338.16" y2="180.4" stroke="#e6452f" stroke-width="1"/>
<rect x="1336.16" y="172.00" width="4" height="3.10" fill="#e83726" stroke="#e61e0a" stroke-width="1"/>
<line x1="1346.13" y1="123.8" x2="1346.13" y2="183.8" stroke="#4a8d3a" stroke-width="1"/>
<rect x="1344.13" y="132.00" width="4" height="43.10" fill="#498939" stroke="#267617" stroke-width="1"/>
<line x1="1354.1" y1="92.5" x2="1354.1" y2="141.8" stroke="#4a8d3a" stroke-width="1"/>
<rect x="1352.10" y="99.40" width="4" height="31.60" fill="#498939" stroke="#267617" stroke-width="1"/>
<line x1="1362.06" y1="60.0" x2="1362.06" y2="110.0" stroke="#4a8d3a" stroke-width="1"/>
<rect x="1360.06" y="94.20" width="4" height="13.30" fill="#498939" stroke="#267617" stroke-width="1"/>
<line x1="1370.03" y1="84.3" x2="1370.03" y2="104.9" stroke="#4a8d3a" stroke-width="1"/>
<rect x="1367.53" y="93.70" width="5" height="1.20" fill="#267617"/>
<line x1="1378.0" y1="54.8" x2="1378.0" y2="100.1" stroke="#4a8d3a" stroke-width="1"/>
<rect x="1376.00" y="84.50" width="4" height="8.70" fill="#498939" stroke="#267617" stroke-width="1"/>
<line x1="1385.97" y1="76.0" x2="1385.97" y2="103.2" stroke="#e6452f" stroke-width="1"/>
<rect x="1383.97" y="84.60" width="4" height="5.00" fill="#e83726" stroke="#e61e0a" stroke-width="1"/>
<line x1="1393.94" y1="68.8" x2="1393.94" y2="105.4" stroke="#e6452f" stroke-width="1"/>
<rect x="1391.94" y="90.30" width="4" height="9.60" fill="#e83726" stroke="#e61e0a" stroke-width="1"/>
<line x1="1401.91" y1="77.4" x2="1401.91" y2="102.7" stroke="#4a8d3a" stroke-width="1"/>
<rect x="1399.91" y="84.60" width="4" height="15.30" fill="#498939" stroke="#267617" stroke-width="1"/>
<line x1="1409.87" y1="47.1" x2="1409.87" y2="75.5" stroke="#4a8d3a" stroke-width="1"/>
<rect x="1407.87" y="47.60" width="4" height="10.20" fill="#498939" stroke="#267617" stroke-width="1"/>
<line x1="1417.84" y1="38.2" x2="1417.84" y2="71.7" stroke="#e6452f" stroke-width="1"/>
<rect x="1415.84" y="47.60" width="4" height="17.40" fill="#e83726" stroke="#e61e0a" stroke-width="1"/>
<line x1="1425.81" y1="60.2" x2="1425.81" y2="70.2" stroke="#4a8d3a" stroke-width="1"/>
<rect x="1423.81" y="61.70" width="4" height="3.30" fill="#498939" stroke="#267617" stroke-width="1"/>
<line x1="1442.5" y1="0" x2="1442.5" y2="798.0" stroke="#333" stroke-width="1"/>
<line x1="1443.5" y1="0" x2="1443.5" y2="797.5" stroke="#a0a0a0" stroke-width="1"/>
<line x1="0" y1="797.5" x2="1443.0" y2="797.5" stroke="#222" stroke-width="1"/>
<line x1="0" y1="798.5" x2="1442.0" y2="798.5" stroke="#ececec" stroke-width="1"/>
<line x1="1443.0" y1="6.5" x2="1445.0" y2="6.5" stroke="#000" stroke-width="1"/>
<text x="1448.19" y="10" textLength="42.46" lengthAdjust="spacingAndGlyphs" class="pl">106422.95</text>
<line x1="1443.0" y1="39.5" x2="1445.0" y2="39.5" stroke="#000" stroke-width="1"/>
<text x="1448.19" y="43" textLength="42.46" lengthAdjust="spacingAndGlyphs" class="pl">105065.00</text>
<line x1="1443.0" y1="72.5" x2="1445.0" y2="72.5" stroke="#000" stroke-width="1"/>
<text x="1448.19" y="76" textLength="42.46" lengthAdjust="spacingAndGlyphs" class="pl">103707.05</text>
<line x1="1443.0" y1="104.5" x2="1445.0" y2="104.5" stroke="#000" stroke-width="1"/>
<text x="1448.19" y="108" textLength="42.46" lengthAdjust="spacingAndGlyphs" class="pl">102349.10</text>
<line x1="1443.0" y1="137.5" x2="1445.0" y2="137.5" stroke="#000" stroke-width="1"/>
<text x="1448.19" y="141" textLength="42.46" lengthAdjust="spacingAndGlyphs" class="pl">100991.15</text>
<line x1="1443.0" y1="170.5" x2="1445.0" y2="170.5" stroke="#000" stroke-width="1"/>
<text x="1449.10" y="174" textLength="35.86" lengthAdjust="spacingAndGlyphs" class="pl">99592.05</text>
<line x1="1443.0" y1="203.5" x2="1445.0" y2="203.5" stroke="#000" stroke-width="1"/>
<text x="1449.10" y="207" textLength="35.86" lengthAdjust="spacingAndGlyphs" class="pl">98234.10</text>
<line x1="1443.0" y1="236.5" x2="1445.0" y2="236.5" stroke="#000" stroke-width="1"/>
<text x="1449.10" y="240" textLength="35.86" lengthAdjust="spacingAndGlyphs" class="pl">96876.15</text>
<line x1="1443.0" y1="269.5" x2="1445.0" y2="269.5" stroke="#000" stroke-width="1"/>
<text x="1449.10" y="273" textLength="35.86" lengthAdjust="spacingAndGlyphs" class="pl">95518.20</text>
<line x1="1443.0" y1="302.5" x2="1445.0" y2="302.5" stroke="#000" stroke-width="1"/>
<text x="1449.10" y="306" textLength="35.86" lengthAdjust="spacingAndGlyphs" class="pl">94160.25</text>
<line x1="1443.0" y1="334.5" x2="1445.0" y2="334.5" stroke="#000" stroke-width="1"/>
<text x="1449.10" y="338" textLength="35.86" lengthAdjust="spacingAndGlyphs" class="pl">92802.30</text>
<line x1="1443.0" y1="367.5" x2="1445.0" y2="367.5" stroke="#000" stroke-width="1"/>
<text x="1449.10" y="371" textLength="35.86" lengthAdjust="spacingAndGlyphs" class="pl">91444.35</text>
<line x1="1443.0" y1="400.5" x2="1445.0" y2="400.5" stroke="#000" stroke-width="1"/>
<text x="1449.10" y="404" textLength="35.86" lengthAdjust="spacingAndGlyphs" class="pl">90086.40</text>
<line x1="1443.0" y1="433.5" x2="1445.0" y2="433.5" stroke="#000" stroke-width="1"/>
<text x="1449.10" y="437" textLength="35.86" lengthAdjust="spacingAndGlyphs" class="pl">88728.45</text>
<line x1="1443.0" y1="466.5" x2="1445.0" y2="466.5" stroke="#000" stroke-width="1"/>
<text x="1449.10" y="470" textLength="35.86" lengthAdjust="spacingAndGlyphs" class="pl">87370.50</text>
<line x1="1443.0" y1="499.5" x2="1445.0" y2="499.5" stroke="#000" stroke-width="1"/>
<text x="1449.10" y="503" textLength="35.86" lengthAdjust="spacingAndGlyphs" class="pl">85971.40</text>
<line x1="1443.0" y1="531.5" x2="1445.0" y2="531.5" stroke="#000" stroke-width="1"/>
<text x="1449.10" y="535" textLength="35.86" lengthAdjust="spacingAndGlyphs" class="pl">84613.45</text>
<line x1="1443.0" y1="564.5" x2="1445.0" y2="564.5" stroke="#000" stroke-width="1"/>
<text x="1449.10" y="568" textLength="35.86" lengthAdjust="spacingAndGlyphs" class="pl">83255.50</text>
<line x1="1443.0" y1="597.5" x2="1445.0" y2="597.5" stroke="#000" stroke-width="1"/>
<text x="1449.10" y="601" textLength="35.86" lengthAdjust="spacingAndGlyphs" class="pl">81897.55</text>
<line x1="1443.0" y1="630.5" x2="1445.0" y2="630.5" stroke="#000" stroke-width="1"/>
<text x="1449.10" y="634" textLength="35.86" lengthAdjust="spacingAndGlyphs" class="pl">80539.60</text>
<line x1="1443.0" y1="663.5" x2="1445.0" y2="663.5" stroke="#000" stroke-width="1"/>
<text x="1448.21" y="667" textLength="36.74" lengthAdjust="spacingAndGlyphs" class="pl">79181.65</text>
<line x1="1443.0" y1="696.5" x2="1445.0" y2="696.5" stroke="#000" stroke-width="1"/>
<text x="1448.21" y="700" textLength="36.74" lengthAdjust="spacingAndGlyphs" class="pl">77823.70</text>
<line x1="1443.0" y1="728.5" x2="1445.0" y2="728.5" stroke="#000" stroke-width="1"/>
<text x="1448.21" y="732" textLength="36.74" lengthAdjust="spacingAndGlyphs" class="pl">76465.75</text>
<line x1="1443.0" y1="761.5" x2="1445.0" y2="761.5" stroke="#000" stroke-width="1"/>
<text x="1448.21" y="765" textLength="36.74" lengthAdjust="spacingAndGlyphs" class="pl">75107.80</text>
<line x1="1443.0" y1="794.5" x2="1445.0" y2="794.5" stroke="#000" stroke-width="1"/>
<text x="1448.21" y="798" textLength="36.74" lengthAdjust="spacingAndGlyphs" class="pl">73749.85</text>
<rect x="1445.2" y="56" width="48.6" height="10.4" fill="#000"/>
<text x="1448.50" y="65" textLength="42.15" lengthAdjust="spacingAndGlyphs" class="bl">104166.63</text>
<line x1="-0.5" y1="798.0" x2="-0.5" y2="801.0" stroke="#000" stroke-width="1"/>
<text x="-2.12" y="810" textLength="51.54" lengthAdjust="spacingAndGlyphs" class="tl">31 Mar 2025</text>
<line x1="63.5" y1="798.0" x2="63.5" y2="801.0" stroke="#000" stroke-width="1"/>
<text x="61.60" y="810" textLength="48.10" lengthAdjust="spacingAndGlyphs" class="tl">1 Apr 20:05</text>
<line x1="126.5" y1="798.0" x2="126.5" y2="801.0" stroke="#000" stroke-width="1"/>
<text x="125.35" y="810" textLength="48.10" lengthAdjust="spacingAndGlyphs" class="tl">3 Apr 04:05</text>
<line x1="190.5" y1="798.0" x2="190.5" y2="801.0" stroke="#000" stroke-width="1"/>
<text x="190.04" y="810" textLength="48.10" lengthAdjust="spacingAndGlyphs" class="tl">4 Apr 12:05</text>
<line x1="254.5" y1="798.0" x2="254.5" y2="801.0" stroke="#000" stroke-width="1"/>
<text x="252.84" y="810" textLength="48.10" lengthAdjust="spacingAndGlyphs" class="tl">7 Apr 20:05</text>
<line x1="318.5" y1="798.0" x2="318.5" y2="801.0" stroke="#000" stroke-width="1"/>
<text x="317.53" y="810" textLength="48.10" lengthAdjust="spacingAndGlyphs" class="tl">9 Apr 04:05</text>
<line x1="381.5" y1="798.0" x2="381.5" y2="801.0" stroke="#000" stroke-width="1"/>
<text x="380.33" y="810" textLength="53.37" lengthAdjust="spacingAndGlyphs" class="tl">10 Apr 12:05</text>
<line x1="445.5" y1="798.0" x2="445.5" y2="801.0" stroke="#000" stroke-width="1"/>
<text x="444.08" y="810" textLength="52.67" lengthAdjust="spacingAndGlyphs" class="tl">11 Apr 20:05</text>
<line x1="509.5" y1="798.0" x2="509.5" y2="801.0" stroke="#000" stroke-width="1"/>
<text x="507.82" y="810" textLength="53.37" lengthAdjust="spacingAndGlyphs" class="tl">15 Apr 04:05</text>
<line x1="573.5" y1="798.0" x2="573.5" y2="801.0" stroke="#000" stroke-width="1"/>
<text x="571.57" y="810" textLength="53.37" lengthAdjust="spacingAndGlyphs" class="tl">16 Apr 12:05</text>
<line x1="636.5" y1="798.0" x2="636.5" y2="801.0" stroke="#000" stroke-width="1"/>
<text x="635.31" y="810" textLength="53.37" lengthAdjust="spacingAndGlyphs" class="tl">17 Apr 20:05</text>
<line x1="700.5" y1="798.0" x2="700.5" y2="801.0" stroke="#000" stroke-width="1"/>
<text x="699.06" y="810" textLength="53.37" lengthAdjust="spacingAndGlyphs" class="tl">21 Apr 04:05</text>
<line x1="764.5" y1="798.0" x2="764.5" y2="801.0" stroke="#000" stroke-width="1"/>
<text x="762.81" y="810" textLength="53.37" lengthAdjust="spacingAndGlyphs" class="tl">22 Apr 12:05</text>
<line x1="828.5" y1="798.0" x2="828.5" y2="801.0" stroke="#000" stroke-width="1"/>
<text x="826.55" y="810" textLength="53.37" lengthAdjust="spacingAndGlyphs" class="tl">23 Apr 20:05</text>
<line x1="891.5" y1="798.0" x2="891.5" y2="801.0" stroke="#000" stroke-width="1"/>
<text x="890.30" y="810" textLength="53.37" lengthAdjust="spacingAndGlyphs" class="tl">25 Apr 04:05</text>
<line x1="955.5" y1="798.0" x2="955.5" y2="801.0" stroke="#000" stroke-width="1"/>
<text x="954.04" y="810" textLength="53.37" lengthAdjust="spacingAndGlyphs" class="tl">28 Apr 12:05</text>
<line x1="1019.5" y1="798.0" x2="1019.5" y2="801.0" stroke="#000" stroke-width="1"/>
<text x="1017.79" y="810" textLength="53.37" lengthAdjust="spacingAndGlyphs" class="tl">29 Apr 20:05</text>
<line x1="1083.5" y1="798.0" x2="1083.5" y2="801.0" stroke="#000" stroke-width="1"/>
<text x="1081.54" y="810" textLength="51.78" lengthAdjust="spacingAndGlyphs" class="tl">1 May 04:05</text>
<line x1="1146.5" y1="798.0" x2="1146.5" y2="801.0" stroke="#000" stroke-width="1"/>
<text x="1145.28" y="810" textLength="51.78" lengthAdjust="spacingAndGlyphs" class="tl">2 May 12:05</text>
<line x1="1210.5" y1="798.0" x2="1210.5" y2="801.0" stroke="#000" stroke-width="1"/>
<text x="1209.03" y="810" textLength="51.78" lengthAdjust="spacingAndGlyphs" class="tl">5 May 20:05</text>
<line x1="1274.5" y1="798.0" x2="1274.5" y2="801.0" stroke="#000" stroke-width="1"/>
<text x="1272.77" y="810" textLength="51.78" lengthAdjust="spacingAndGlyphs" class="tl">7 May 04:05</text>
<line x1="1338.5" y1="798.0" x2="1338.5" y2="801.0" stroke="#000" stroke-width="1"/>
<text x="1337.47" y="810" textLength="51.78" lengthAdjust="spacingAndGlyphs" class="tl">8 May 12:05</text>
<line x1="1401.5" y1="798.0" x2="1401.5" y2="801.0" stroke="#000" stroke-width="1"/>
<text x="1401.21" y="810" textLength="51.78" lengthAdjust="spacingAndGlyphs" class="tl">9 May 20:05</text>
<path d="M2,6 L9,6 L5.5,9.6 Z" fill="#000"/>
<text x="13.45" y="11" textLength="73.89" lengthAdjust="spacingAndGlyphs" class="tl">BTCUSD_ecn,H4</text>
<text x="93.00" y="11" textLength="42.26" lengthAdjust="spacingAndGlyphs" class="tl">103997.99</text>
<text x="139.02" y="11" textLength="41.43" lengthAdjust="spacingAndGlyphs" class="tl">104186.13</text>
<text x="184.71" y="11" textLength="41.74" lengthAdjust="spacingAndGlyphs" class="tl">103789.08</text>
<text x="230.20" y="11" textLength="42.26" lengthAdjust="spacingAndGlyphs" class="tl">104166.63</text>
<line x1="1498.5" y1="0" x2="1498.5" y2="816" stroke="#e3e3e3" stroke-width="1"/>
</svg>
</body></html>
